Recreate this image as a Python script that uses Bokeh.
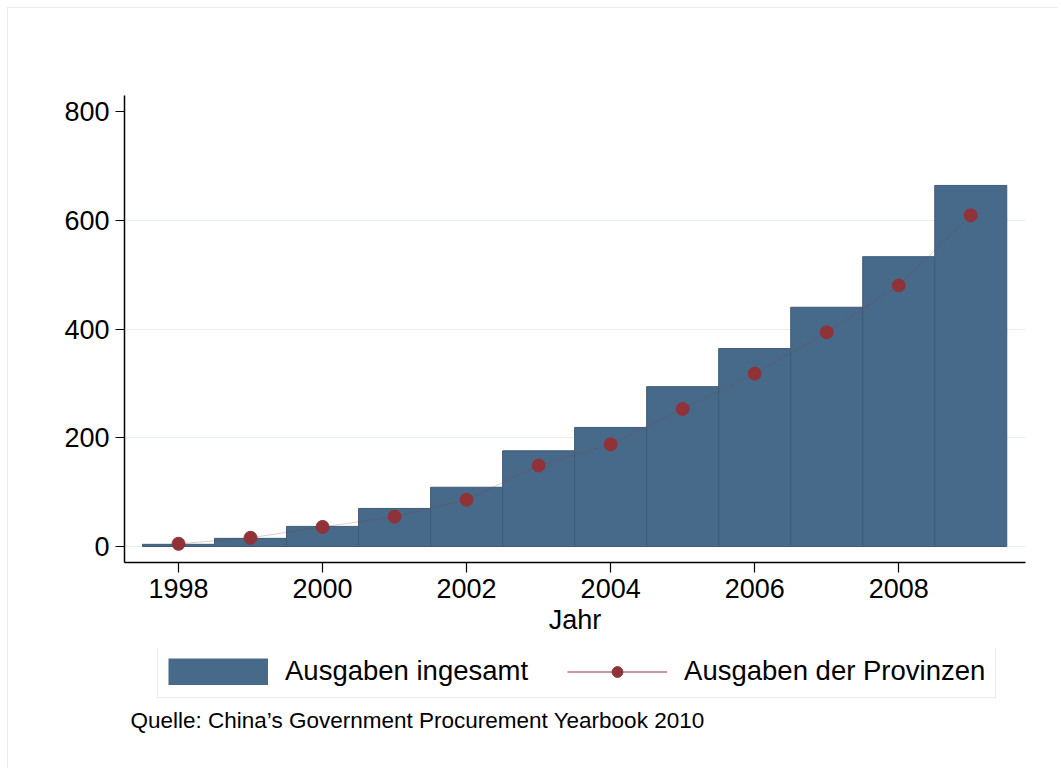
from bokeh.plotting import figure
from bokeh.models import (ColumnDataSource, FixedTicker, Range1d, Legend, LegendItem, Label)
from bokeh.layouts import column
from bokeh.embed import file_html
from bokeh.resources import INLINE

years = [1998, 1999, 2000, 2001, 2002, 2003, 2004, 2005, 2006, 2007, 2008, 2009]
total = [4, 15, 37, 70, 109, 176, 219, 294, 364, 440, 533, 664]
provinces = [5, 16, 36, 55, 86, 149, 188, 253, 318, 394, 480, 609]
x_ticks = [1998, 2000, 2002, 2004, 2006, 2008]
y_ticks = [0, 200, 400, 600, 800]
grid_ticks = [0, 200, 400, 600]
series_labels = ["Ausgaben ingesamt", "Ausgaben der Provinzen"]
source_note = "Quelle: China\u2019s Government Procurement Yearbook 2010"

FONT = "Liberation Sans"
BAR = "#476a8a"
BAR_EDGE = "#3e5c7a"
RED = "#8f3339"
W = 1050

src = ColumnDataSource(dict(year=years, total=total, prov=provinces))

p = figure(width=W, height=640, output_backend="svg", toolbar_location=None,
           x_range=Range1d(1997.25, 2009.76), y_range=Range1d(-29.4, 829.4),
           min_border_left=116, min_border_top=87, min_border_right=33, min_border_bottom=86)
p.outline_line_color = None
p.background_fill_color = "white"
p.border_fill_color = "white"

p.xgrid.visible = False
p.ygrid.ticker = FixedTicker(ticks=grid_ticks)
p.ygrid.grid_line_color = "#e8eef0"
p.ygrid.grid_line_width = 1

p.vbar(x="year", top="total", bottom=0, width=1.0, source=src,
       fill_color=BAR, line_color=BAR_EDGE, line_width=1)
p.line(x="year", y="prov", source=src, line_color=RED, line_alpha=0.25, line_width=1)
p.scatter(x="year", y="prov", source=src, size=13, fill_color=RED, line_color=RED)

for ax in (p.xaxis[0], p.yaxis[0]):
    ax.axis_line_color = "black"
    ax.axis_line_width = 1.5
    ax.major_tick_line_color = "black"
    ax.major_tick_line_width = 1.2
    ax.minor_tick_line_color = None
    ax.major_label_text_font = FONT
    ax.major_label_text_font_size = "27px"
    ax.major_label_text_color = "black"

p.xaxis.ticker = FixedTicker(ticks=x_ticks)
p.yaxis.ticker = FixedTicker(ticks=y_ticks)
p.xaxis.major_tick_out = 10
p.xaxis.major_tick_in = 0
p.yaxis.major_tick_out = 9
p.yaxis.major_tick_in = 0
p.xaxis.major_label_standoff = 6
p.yaxis.major_label_standoff = 6
p.xaxis.axis_label = "Jahr"
p.xaxis.axis_label_text_font = FONT
p.xaxis.axis_label_text_font_size = "27px"
p.xaxis.axis_label_text_font_style = "normal"
p.xaxis.axis_label_text_color = "black"
p.xaxis.axis_label_standoff = 4

# bottom strip: legend + source note (frame is aligned with the main plot frame)
H2 = 120
q = figure(width=W, height=H2, output_backend="svg", toolbar_location=None,
           x_range=Range1d(1960, 1970), y_range=Range1d(-100, -50),
           x_axis_type=None, y_axis_type=None,
           min_border_left=116, min_border_right=33, min_border_top=0, min_border_bottom=0)
q.outline_line_color = None
q.xgrid.visible = False
q.ygrid.visible = False
q.background_fill_color = "white"
q.border_fill_color = "white"

# legend proxies: same data, lying outside this strip's view
leg_bar = q.line(x="year", y="total", source=src, line_color=BAR, line_width=27, line_cap="butt")
leg_line = q.line(x="year", y="prov", source=src, line_color=RED, line_width=1.2)
leg_dot = q.scatter(x="year", y="prov", source=src, size=9, fill_color=RED, line_color=RED)

legend = Legend(items=[LegendItem(label=series_labels[0], renderers=[leg_bar]),
                       LegendItem(label=series_labels[1], renderers=[leg_line, leg_dot])],
                location=(33, 70), orientation="horizontal")
legend.label_text_font = FONT
legend.label_text_font_size = "27.5px"
legend.label_text_color = "black"
legend.glyph_width = 100
legend.glyph_height = 27
legend.label_height = 27
legend.label_standoff = 17
legend.spacing = 39
legend.padding = 10
legend.margin = 0
legend.border_line_color = "#d6d6d6"
legend.border_line_width = 1.5
legend.background_fill_color = "white"
legend.background_fill_alpha = 1
q.add_layout(legend, "center")

caption = Label(x=6, y=48, x_units="screen", y_units="screen",
                text=source_note,
                text_font=FONT, text_font_size="22.5px", text_color="black",
                text_baseline="alphabetic")
q.add_layout(caption)

layout = column(p, q, spacing=0)
layout.styles = {"margin-left": "7px", "margin-top": "7px",
                 "border-top": "1px solid #e6ecf0", "border-left": "1px solid #e6ecf0"}

open("out.html", "w").write(file_html(layout, INLINE))
